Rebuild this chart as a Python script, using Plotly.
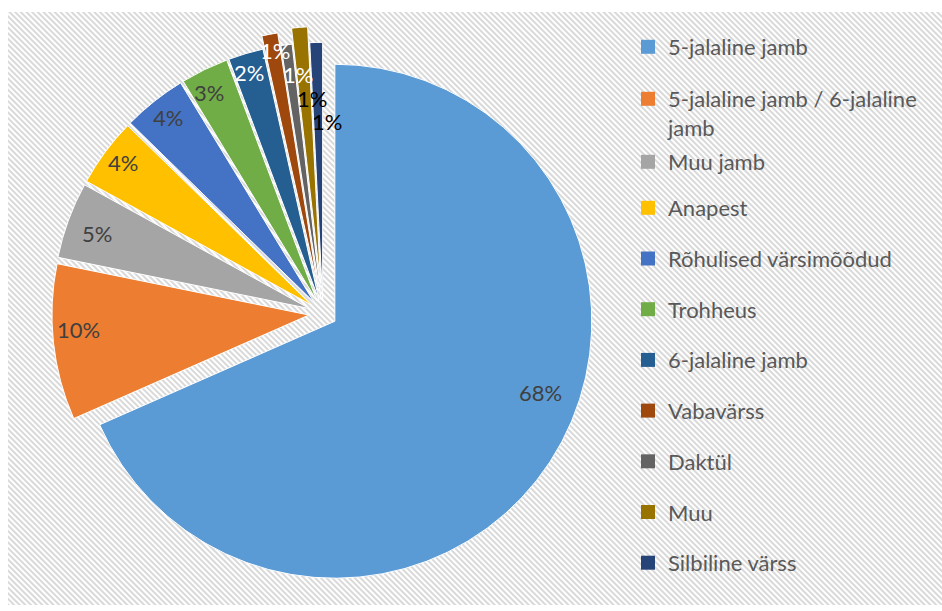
import base64
import math
import textwrap

import plotly.graph_objects as go

# Verse forms and their shares (%)
labels = [
    "5-jalaline jamb",
    "5-jalaline jamb / 6-jalaline jamb",
    "Muu jamb",
    "Anapest",
    "Rõhulised värsimõõdud",
    "Trohheus",
    "6-jalaline jamb",
    "Vabavärss",
    "Daktül",
    "Muu",
    "Silbiline värss",
]
shares = [68.4, 9.8, 4.8, 4.3, 4.0, 3.0, 2.2, 1.0, 0.7, 1.0, 0.8]

# Styling
colors = ["#5B9BD5", "#ED7D31", "#A5A5A5", "#FFC000", "#4472C4", "#70AD47",
          "#255E91", "#9E480E", "#636363", "#997300", "#264478"]
pulls = [0.055, 0.055, 0.055, 0.055, 0.055, 0.055, 0.055, 0.106, 0.055, 0.117, 0.055]
label_colors = ["#404040"] * 6 + ["#FFFFFF"] * 3 + ["#000000"] * 2
# label placement: share of the slice's angular span, and distance from the slice apex
# as a fraction of the radius
label_t = [0.443, 0.569, 0.465, 0.53, 0.51, 0.37, 0.43, 0.636, 1.25, 1.067, 1.49]
label_f = [0.845, 0.897, 0.879, 0.919, 0.916, 0.914, 0.924, 0.933, 0.882, 0.719, 0.694]
# legend blocks: (first entry, last entry, top edge in px, gap between entries in px)
legend_blocks = [(0, 1, 26.0, 20.4), (2, 2, 141.0, 0.0), (3, 10, 187.0, 19.1)]

FONT = "Lato"
FONT_SIZE = 22
W, H = 942, 611
CX, CY, R = 323.0, 313.5, 257.0  # pie centre and radius in pixels

max_pull = max(pulls)
box = 2 * R * (1 + max_pull)
domain = dict(
    x=[(CX - box / 2) / W, (CX + box / 2) / W],
    y=[1 - (CY + box / 2) / H, 1 - (CY - box / 2) / H],
)

fig = go.Figure()

fig.add_trace(go.Pie(
    labels=labels,
    values=shares,
    sort=False,
    direction="clockwise",
    rotation=0,
    pull=pulls,
    marker=dict(colors=colors, line=dict(color="#FFFFFF", width=1)),
    textinfo="none",
    hoverinfo="label+percent",
    showlegend=False,
    domain=domain,
))

# Percentage labels placed near the outer end of each slice
total = sum(shares)
annotations = []
acc = 0.0
for i, v in enumerate(shares):
    a0 = 360.0 * acc / total
    span = 360.0 * v / total
    mid = math.radians(a0 + span / 2)
    apex_x = CX + pulls[i] * R * math.sin(mid)
    apex_y = CY - pulls[i] * R * math.cos(mid)
    ang = math.radians(a0 + label_t[i] * span)
    tx = apex_x + label_f[i] * R * math.sin(ang)
    ty = apex_y - label_f[i] * R * math.cos(ang)
    annotations.append(dict(
        x=tx / W, y=1 - ty / H, xref="paper", yref="paper",
        text=f"{round(100 * v / total)}%", showarrow=False,
        xanchor="center", yanchor="middle",
        font=dict(family=FONT, size=FONT_SIZE, color=label_colors[i]),
    ))
    acc += v

# Legend entries, one group each so the entries can be spaced apart
legend_layouts = {}
for b, (first, last, top, gap) in enumerate(legend_blocks):
    key = "legend" if b == 0 else f"legend{b + 1}"
    legend_layouts[key] = dict(
        x=628 / W, xanchor="left", y=1 - top / H, yanchor="top",
        font=dict(family=FONT, size=FONT_SIZE, color="#595959"),
        tracegroupgap=gap, valign="top", bgcolor="rgba(0,0,0,0)",
    )
    for i in range(first, last + 1):
        shown = "<br>".join(textwrap.wrap(labels[i], 28, break_on_hyphens=False))
        fig.add_trace(go.Scatter(
            x=[None], y=[None], mode="markers",
            marker=dict(symbol="square", size=14, color=colors[i]),
            name=shown, legendgroup=f"g{i}", legend=key,
            showlegend=True, hoverinfo="skip",
        ))

# Diagonal hatched chart-area background
bx0, by0, bx1, by1 = 8, 12, 942, 605
bw, bh = bx1 - bx0, by1 - by0
svg = (
    f'<svg xmlns="http://www.w3.org/2000/svg" width="{bw}" height="{bh}">'
    '<defs><pattern id="d" width="4" height="4" patternUnits="userSpaceOnUse" '
    'patternTransform="rotate(-45)">'
    '<rect width="4" height="4" fill="#FFFFFF"/>'
    '<rect width="2" height="4" fill="#D9D9D9"/>'
    '</pattern></defs>'
    '<rect width="100%" height="100%" fill="url(#d)"/></svg>'
)
bg_src = "data:image/svg+xml;base64," + base64.b64encode(svg.encode()).decode()

fig.update_layout(
    width=W, height=H,
    margin=dict(l=0, r=0, t=0, b=0, autoexpand=False),
    paper_bgcolor="#FFFFFF",
    plot_bgcolor="rgba(0,0,0,0)",
    xaxis=dict(visible=False),
    yaxis=dict(visible=False),
    images=[dict(
        source=bg_src, xref="paper", yref="paper",
        x=bx0 / W, y=1 - by0 / H, sizex=bw / W, sizey=bh / H,
        xanchor="left", yanchor="top", sizing="stretch", layer="below",
    )],
    annotations=annotations,
    font=dict(family=FONT),
    **legend_layouts,
)

fig.write_html("out.html")
